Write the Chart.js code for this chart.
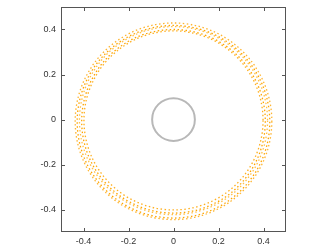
<!DOCTYPE html>
<html><head><meta charset="utf-8">
<script src="https://cdn.jsdelivr.net/npm/chart.js@4"></script>
<style>html,body{margin:0;padding:0;background:#fff}#w{width:332px;height:249px}</style>
</head><body><div id="w"><canvas id="c" width="332" height="249"></canvas></div>
<script>
const tickValues = [-0.4, -0.2, 0, 0.2, 0.4];
const tickLabels = ['-0.4', '-0.2', '0', '0.2', '0.4'];
// circles: centre x, centre y, radius (data units)
const ringCx = [0.000, 0.000, 0.000, 0.000, 0.000];
const ringCy = [-0.004, -0.008, -0.005, -0.010, -0.008];
const ringR  = [0.398, 0.408, 0.418, 0.428, 0.437];
const ringColors = ['#ffb020', '#ffa500', '#ffc04a', '#ffa500', '#ffb530'];
const innerCx = [0.0], innerCy = [0.0], innerR = [0.095];

const drawPlugin = {
  id: 'drawPlugin',
  afterDatasetsDraw(chart) {
    const {ctx, chartArea: a, scales: {x, y}} = chart;
    ctx.save();
    ctx.beginPath(); ctx.rect(a.left, a.top, a.right - a.left, a.bottom - a.top); ctx.clip();
    for (let i = 0; i < innerR.length; i++) {
      const cx = x.getPixelForValue(innerCx[i]), cy = y.getPixelForValue(innerCy[i]);
      const rx = Math.abs(x.getPixelForValue(innerCx[i] + innerR[i]) - cx);
      const ry = Math.abs(y.getPixelForValue(innerCy[i] + innerR[i]) - cy);
      ctx.beginPath(); ctx.ellipse(cx, cy, rx, ry, 0, 0, Math.PI * 2);
      ctx.strokeStyle = '#b8b8b8'; ctx.lineWidth = 2; ctx.setLineDash([]); ctx.stroke();
    }
    for (let i = 0; i < ringR.length; i++) {
      const cx = x.getPixelForValue(ringCx[i]), cy = y.getPixelForValue(ringCy[i]);
      const rx = Math.abs(x.getPixelForValue(ringCx[i] + ringR[i]) - cx);
      const ry = Math.abs(y.getPixelForValue(ringCy[i] + ringR[i]) - cy);
      ctx.beginPath(); ctx.ellipse(cx, cy, rx, ry, 0, 0, Math.PI * 2);
      ctx.strokeStyle = ringColors[i]; ctx.lineWidth = 1.3; ctx.setLineDash([1.5, 2.5]); ctx.stroke();
    }
    ctx.restore();
    ctx.save();
    ctx.strokeStyle = '#555'; ctx.lineWidth = 1; ctx.setLineDash([]);
    ctx.strokeRect(a.left + 0.5, a.top + 0.5, a.right - a.left - 1, a.bottom - a.top - 1);
    ctx.beginPath();
    tickValues.forEach(v => {
      const px = Math.round(x.getPixelForValue(v)) + 0.5;
      ctx.moveTo(px, a.bottom); ctx.lineTo(px, a.bottom - 4);
      ctx.moveTo(px, a.top); ctx.lineTo(px, a.top + 4);
      const py = Math.round(y.getPixelForValue(v)) + 0.5;
      ctx.moveTo(a.left, py); ctx.lineTo(a.left + 4, py);
      ctx.moveTo(a.right, py); ctx.lineTo(a.right - 4, py);
    });
    ctx.stroke();
    ctx.restore();
  }
};

const setTicks = s => { s.ticks = tickValues.map(v => ({value: v})); };
new Chart(document.getElementById('c'), {
  type: 'scatter',
  data: {datasets: [{data: [], showLine: false}]},
  options: {
    responsive: false, animation: false, devicePixelRatio: 1,
    layout: {padding: {left: 0, right: 46, top: 7, bottom: 0}},
    plugins: {legend: {display: false}, tooltip: {enabled: false}},
    scales: {
      x: {
        type: 'linear', min: -0.5, max: 0.5,
        afterBuildTicks: setTicks,
        afterFit: s => { s.height = 17; s.paddingLeft = 0; s.paddingRight = 0; },
        grid: {display: false, drawTicks: false}, border: {display: false},
        ticks: {padding: 4, color: '#333', font: {family: 'Liberation Sans, Arial', size: 9},
                callback: (v) => tickLabels[tickValues.indexOf(Math.round(v * 10) / 10)] ?? ''}
      },
      y: {
        type: 'linear', min: -0.5, max: 0.5,
        afterBuildTicks: setTicks,
        afterFit: s => { s.width = 61; s.paddingTop = 0; s.paddingBottom = 0; },
        grid: {display: false, drawTicks: false}, border: {display: false},
        ticks: {padding: 5, color: '#333', font: {family: 'Liberation Sans, Arial', size: 9},
                callback: (v) => tickLabels[tickValues.indexOf(Math.round(v * 10) / 10)] ?? ''}
      }
    }
  },
  plugins: [drawPlugin]
});
</script></body></html>
